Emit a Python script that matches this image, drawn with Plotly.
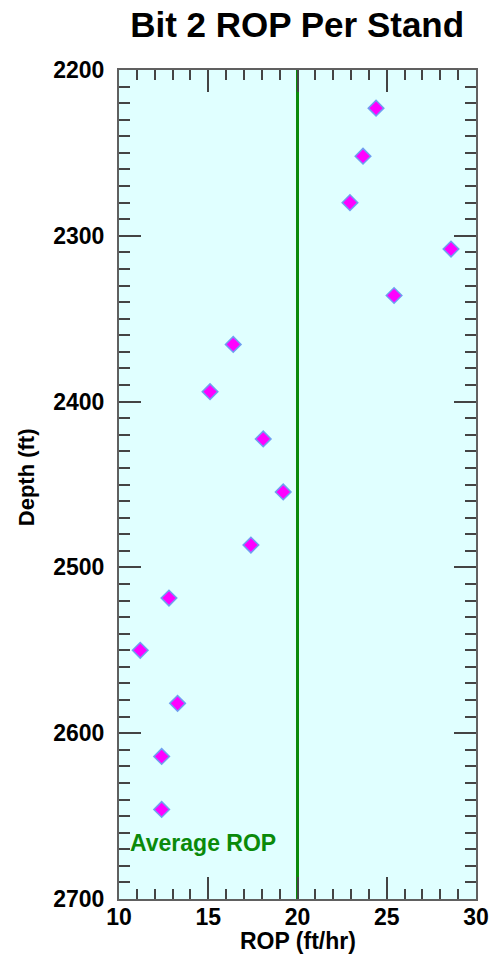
import plotly.graph_objects as go

rop = [24.40, 23.67, 22.94, 28.60, 25.41, 16.40, 15.10, 18.08, 19.20, 17.39,
       12.80, 11.19, 13.28, 12.39, 12.39]
depth = [2223, 2252, 2280, 2308, 2336, 2365.5, 2394, 2422.5, 2454.5, 2486.5,
         2518.5, 2550, 2582, 2614, 2646]
avg_rop = 20
title = "Bit 2 ROP Per Stand"
x_title = "ROP (ft/hr)"
y_title = "Depth (ft)"

FONT = "Liberation Sans, Arial, Helvetica"

fig = go.Figure()
fig.add_trace(go.Scatter(
    x=[avg_rop, avg_rop], y=[2200, 2700], mode="lines",
    line=dict(color="#0a8a0a", width=3), hoverinfo="skip", showlegend=False))
fig.add_trace(go.Scatter(
    x=rop, y=depth, mode="markers",
    marker=dict(symbol="diamond", size=12, color="#ff00ff",
                line=dict(color="#6f9ff0", width=1.5)),
    showlegend=False))

fig.add_annotation(x=10.5, y=2666, xref="x", yref="y", text="<b>Average ROP</b>",
                   showarrow=False, xanchor="left", yanchor="middle",
                   font=dict(family=FONT, size=23, color="#0a8a0a"))
fig.add_annotation(x=0.5, y=-0.051, xref="paper", yref="paper", text="<b>" + x_title + "</b>",
                   showarrow=False, xanchor="center", yanchor="middle",
                   font=dict(family=FONT, size=23, color="black"))
fig.add_annotation(x=-0.26, y=0.509, xref="paper", yref="paper", text="<b>" + y_title + "</b>",
                   showarrow=False, xanchor="center", yanchor="middle", textangle=-90,
                   font=dict(family=FONT, size=22, color="black"))

axis_common = dict(
    showgrid=False, zeroline=False, showline=True, linecolor="#606060", linewidth=2,
    mirror="ticks", ticks="inside", ticklen=22, tickwidth=1.5, tickcolor="#444444",
    tickfont=dict(family=FONT, size=23, color="black", weight="bold"),
    automargin=False,
)

fig.update_layout(
    width=492, height=955,
    margin=dict(l=119, r=16, t=70, b=56),
    paper_bgcolor="white", plot_bgcolor="#e0ffff",
    title=dict(text="<b>" + title + "</b>", x=0.604, xanchor="center", y=0.974, yanchor="middle",
               font=dict(family=FONT, size=35, color="black")),
    xaxis=dict(range=[10, 30], dtick=5, tick0=10,
               minor=dict(dtick=1, ticks="inside", ticklen=10, tickcolor="#444444", tickwidth=1.5),
               ticklabelstandoff=-4,
               **axis_common),
    yaxis=dict(range=[2700, 2200], dtick=100, tick0=2200,
               minor=dict(dtick=10, ticks="inside", ticklen=11, tickcolor="#444444", tickwidth=1.5),
               ticklabelstandoff=8,
               **axis_common),
)

fig.write_html("out.html")
